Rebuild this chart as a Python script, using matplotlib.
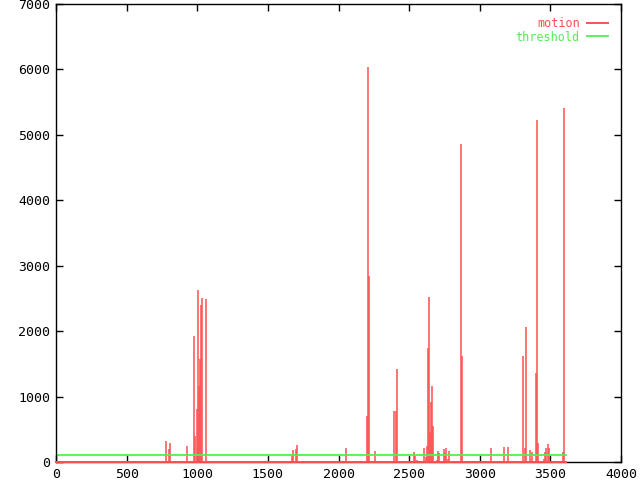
import matplotlib
matplotlib.use('Agg')
import matplotlib.pyplot as plt

# motion spikes (x position, height)
motion_x = [781, 802, 809, 927, 979, 984, 998, 1007, 1015, 1022, 1029, 1036, 1064,
            1671, 1678, 1699, 1708,
            2055, 2204, 2211, 2218, 2261, 2395, 2409, 2416,
            2537, 2544, 2554, 2568, 2596, 2607, 2621, 2628, 2635, 2643, 2650, 2657,
            2664, 2671, 2681, 2695, 2706, 2713, 2749, 2756, 2763, 2773, 2785,
            2869, 2876,
            3082, 3172, 3202, 3308, 3322, 3329, 3358, 3372, 3400, 3407, 3414,
            3457, 3464, 3471, 3485, 3492, 3591, 3598]
motion_y = [320, 200, 290, 245, 1930, 400, 815, 2630, 1165, 1575, 2400, 2505, 2490,
            122, 183, 200, 260,
            214, 703, 6030, 2842, 168, 780, 780, 1421,
            153, 92, 30, 15, 15, 214, 76, 245, 1742, 2526, 458, 917,
            1161, 550, 15, 30, 168, 138, 199, 138, 214, 46, 168,
            4860, 1620,
            214, 229, 229, 1625, 214, 2063, 183, 153, 1360, 5226, 290,
            46, 153, 214, 275, 214, 153, 5409]
x_end = 3610
threshold = 100

red = '#ff5050'
green = '#50f050'

plt.rcParams['font.family'] = 'DejaVu Sans Mono'
fig = plt.figure(figsize=(6.4, 4.8), dpi=100)
ax = fig.add_axes([56/640, 18/480, 565/640, 458/480])

ax.vlines(motion_x, 0, motion_y, color=red, lw=1.1)
ax.plot([0, x_end], [0, 0], color=red, lw=1.4, label='motion',
        zorder=3, clip_on=False)
ax.plot([0, x_end], [threshold, threshold], color=green, lw=1.3, label='threshold')

ax.set_xlim(0, 4000)
ax.set_ylim(0, 7000)
ax.set_xticks(range(0, 4001, 500))
ax.set_yticks(range(0, 7001, 1000))
ax.tick_params(direction='in', length=5, width=1, top=True, right=True,
               labelsize=9.5, pad=4)
for s in ax.spines.values():
    s.set_linewidth(1.0)

leg = ax.legend(loc='upper right', frameon=False, markerfirst=False,
                fontsize=8.5, handlelength=1.8, handletextpad=0.6,
                labelspacing=0.05, borderaxespad=0.7, labelcolor='linecolor')

fig.savefig('out.png', dpi=100)
